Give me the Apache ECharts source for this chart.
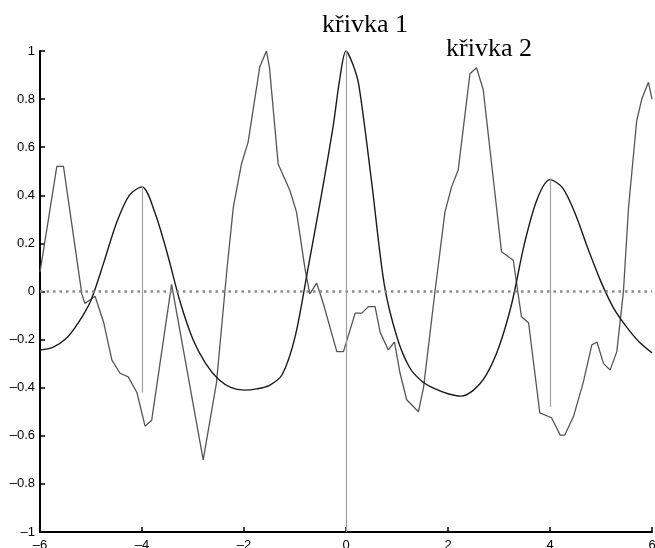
<!DOCTYPE html>
<html>
<head>
<meta charset="utf-8">
<script src="https://cdn.jsdelivr.net/npm/echarts@6/dist/echarts.min.js"></script>
<style>
  html, body { margin: 0; padding: 0; background: #fff; }
  #chart { width: 655px; height: 548px; }
</style>
</head>
<body>
<div id="chart"></div>
<script>
// křivka 1 (hladká)
const curve1X = [-6, -5.75, -5.5, -5.25, -5, -4.75, -4.5, -4.25, -4, -3.75, -3.5, -3.25, -3, -2.75, -2.5, -2.25, -2, -1.75, -1.5, -1.25, -1, -0.75, -0.5, -0.25, -0.125, 0, 0.125, 0.25, 0.5, 0.75, 1, 1.25, 1.5, 1.75, 2, 2.25, 2.5, 2.75, 3, 3.25, 3.5, 3.75, 4, 4.25, 4.5, 4.75, 5, 5.25, 5.5, 5.75, 6]
const curve1Y = [-0.243, -0.232, -0.198, -0.13, -0.036, 0.12, 0.285, 0.4, 0.435, 0.33, 0.155, -0.045, -0.2, -0.3, -0.365, -0.4, -0.41, -0.405, -0.39, -0.345, -0.19, 0.09, 0.38, 0.69, 0.88, 1.0, 0.95, 0.86, 0.46, 0.03, -0.19, -0.317, -0.375, -0.405, -0.425, -0.435, -0.41, -0.347, -0.23, -0.05, 0.2, 0.385, 0.465, 0.43, 0.32, 0.175, 0.04, -0.07, -0.147, -0.21, -0.255]

// křivka 2 (zubatá)
const curve2X = [-6, -5.67, -5.54, -5.18, -5.12, -4.92, -4.75, -4.59, -4.43, -4.27, -4.1, -3.94, -3.81, -3.42, -2.8, -2.54, -2.34, -2.21, -2.05, -1.92, -1.69, -1.56, -1.5, -1.33, -1.1, -0.97, -0.8, -0.71, -0.575, -0.445, -0.18, -0.05, 0.18, 0.31, 0.44, 0.57, 0.67, 0.83, 0.95, 1.06, 1.19, 1.42, 1.52, 1.745, 1.94, 2.07, 2.2, 2.43, 2.56, 2.69, 3.05, 3.28, 3.44, 3.58, 3.8, 4.03, 4.2, 4.29, 4.46, 4.65, 4.82, 4.92, 5.05, 5.18, 5.31, 5.44, 5.54, 5.7, 5.8, 5.93, 6]
const curve2Y = [0.08, 0.52, 0.52, -0.01, -0.05, -0.02, -0.13, -0.285, -0.34, -0.355, -0.42, -0.56, -0.535, 0.03, -0.7, -0.38, 0.08, 0.35, 0.53, 0.62, 0.935, 1.0, 0.93, 0.53, 0.42, 0.33, 0.09, -0.01, 0.035, -0.05, -0.25, -0.25, -0.09, -0.09, -0.063, -0.063, -0.17, -0.243, -0.21, -0.34, -0.45, -0.5, -0.4, 0.0, 0.33, 0.435, 0.505, 0.905, 0.93, 0.84, 0.165, 0.13, -0.105, -0.13, -0.505, -0.525, -0.597, -0.597, -0.52, -0.38, -0.222, -0.21, -0.3, -0.326, -0.25, 0.0, 0.35, 0.71, 0.8, 0.87, 0.8]

// svislé čáry
const stemX = [-4, 0, 4]
const stemTop = [0.435, 1, 0.47]
const stemBottom = [-0.42, -1, -0.48]

const labels = ['křivka 1', 'křivka 2']

const zip = (xs, ys) => xs.map((x, i) => [x, ys[i]])
const minus = v => (v < 0 ? '\u2013' : '') + Math.abs(v)

let Echarts = echarts.init(document.getElementById('chart'))

const option = {
    animation: false,
    grid: { left: 40, right: 3, top: 51, bottom: 16, outerBoundsMode: 'none', containLabel: false },
    xAxis: {
        type: 'value',
        min: -6, max: 6, interval: 2,
        axisLine: { onZero: false, lineStyle: { color: '#000', width: 2 } },
        axisTick: { inside: true, length: 5, lineStyle: { color: '#000', width: 1.5 } },
        axisLabel: { formatter: minus, color: '#000', fontSize: 13, fontFamily: 'Liberation Sans', margin: 7 },
        splitLine: { show: false }
    },
    yAxis: {
        type: 'value',
        min: -1, max: 1, interval: 0.2,
        axisLine: { show: true, onZero: false, lineStyle: { color: '#000', width: 2 } },
        axisTick: { show: true, inside: true, length: 5, lineStyle: { color: '#000', width: 1.5 } },
        axisLabel: { formatter: minus, color: '#000', fontSize: 13, fontFamily: 'Liberation Sans', margin: 5 },
        splitLine: { show: false }
    },
    series: [
        {
            type: 'line',
            data: [],
            silent: true,
            markLine: {
                silent: true,
                symbol: 'none',
                label: { show: false },
                data: [
                    { yAxis: 0, lineStyle: { color: '#8a8a8a', width: 2.5, type: [2.5, 4] } }
                ].concat(stemX.map((x, i) => [
                    { coord: [x, stemTop[i]], lineStyle: { color: '#a0a0a0', width: 1.2, type: 'solid' } },
                    { coord: [x, stemBottom[i]] }
                ]))
            }
        },
        {
            name: labels[1],
            type: 'line',
            data: zip(curve2X, curve2Y),
            showSymbol: false,
            lineStyle: { color: '#555', width: 1.3 }
        },
        {
            name: labels[0],
            type: 'line',
            data: zip(curve1X, curve1Y),
            smooth: 0.3,
            showSymbol: false,
            lineStyle: { color: '#1a1a1a', width: 1.4 }
        }
    ],
    // popisky křivek
    graphic: [
        { type: 'text', left: 322, top: 12, style: { text: labels[0], font: '26px "Liberation Serif"', fill: '#000' } },
        { type: 'text', left: 446, top: 36, style: { text: labels[1], font: '26px "Liberation Serif"', fill: '#000' } }
    ]
}

Echarts.setOption(option)
</script>
</body>
</html>
